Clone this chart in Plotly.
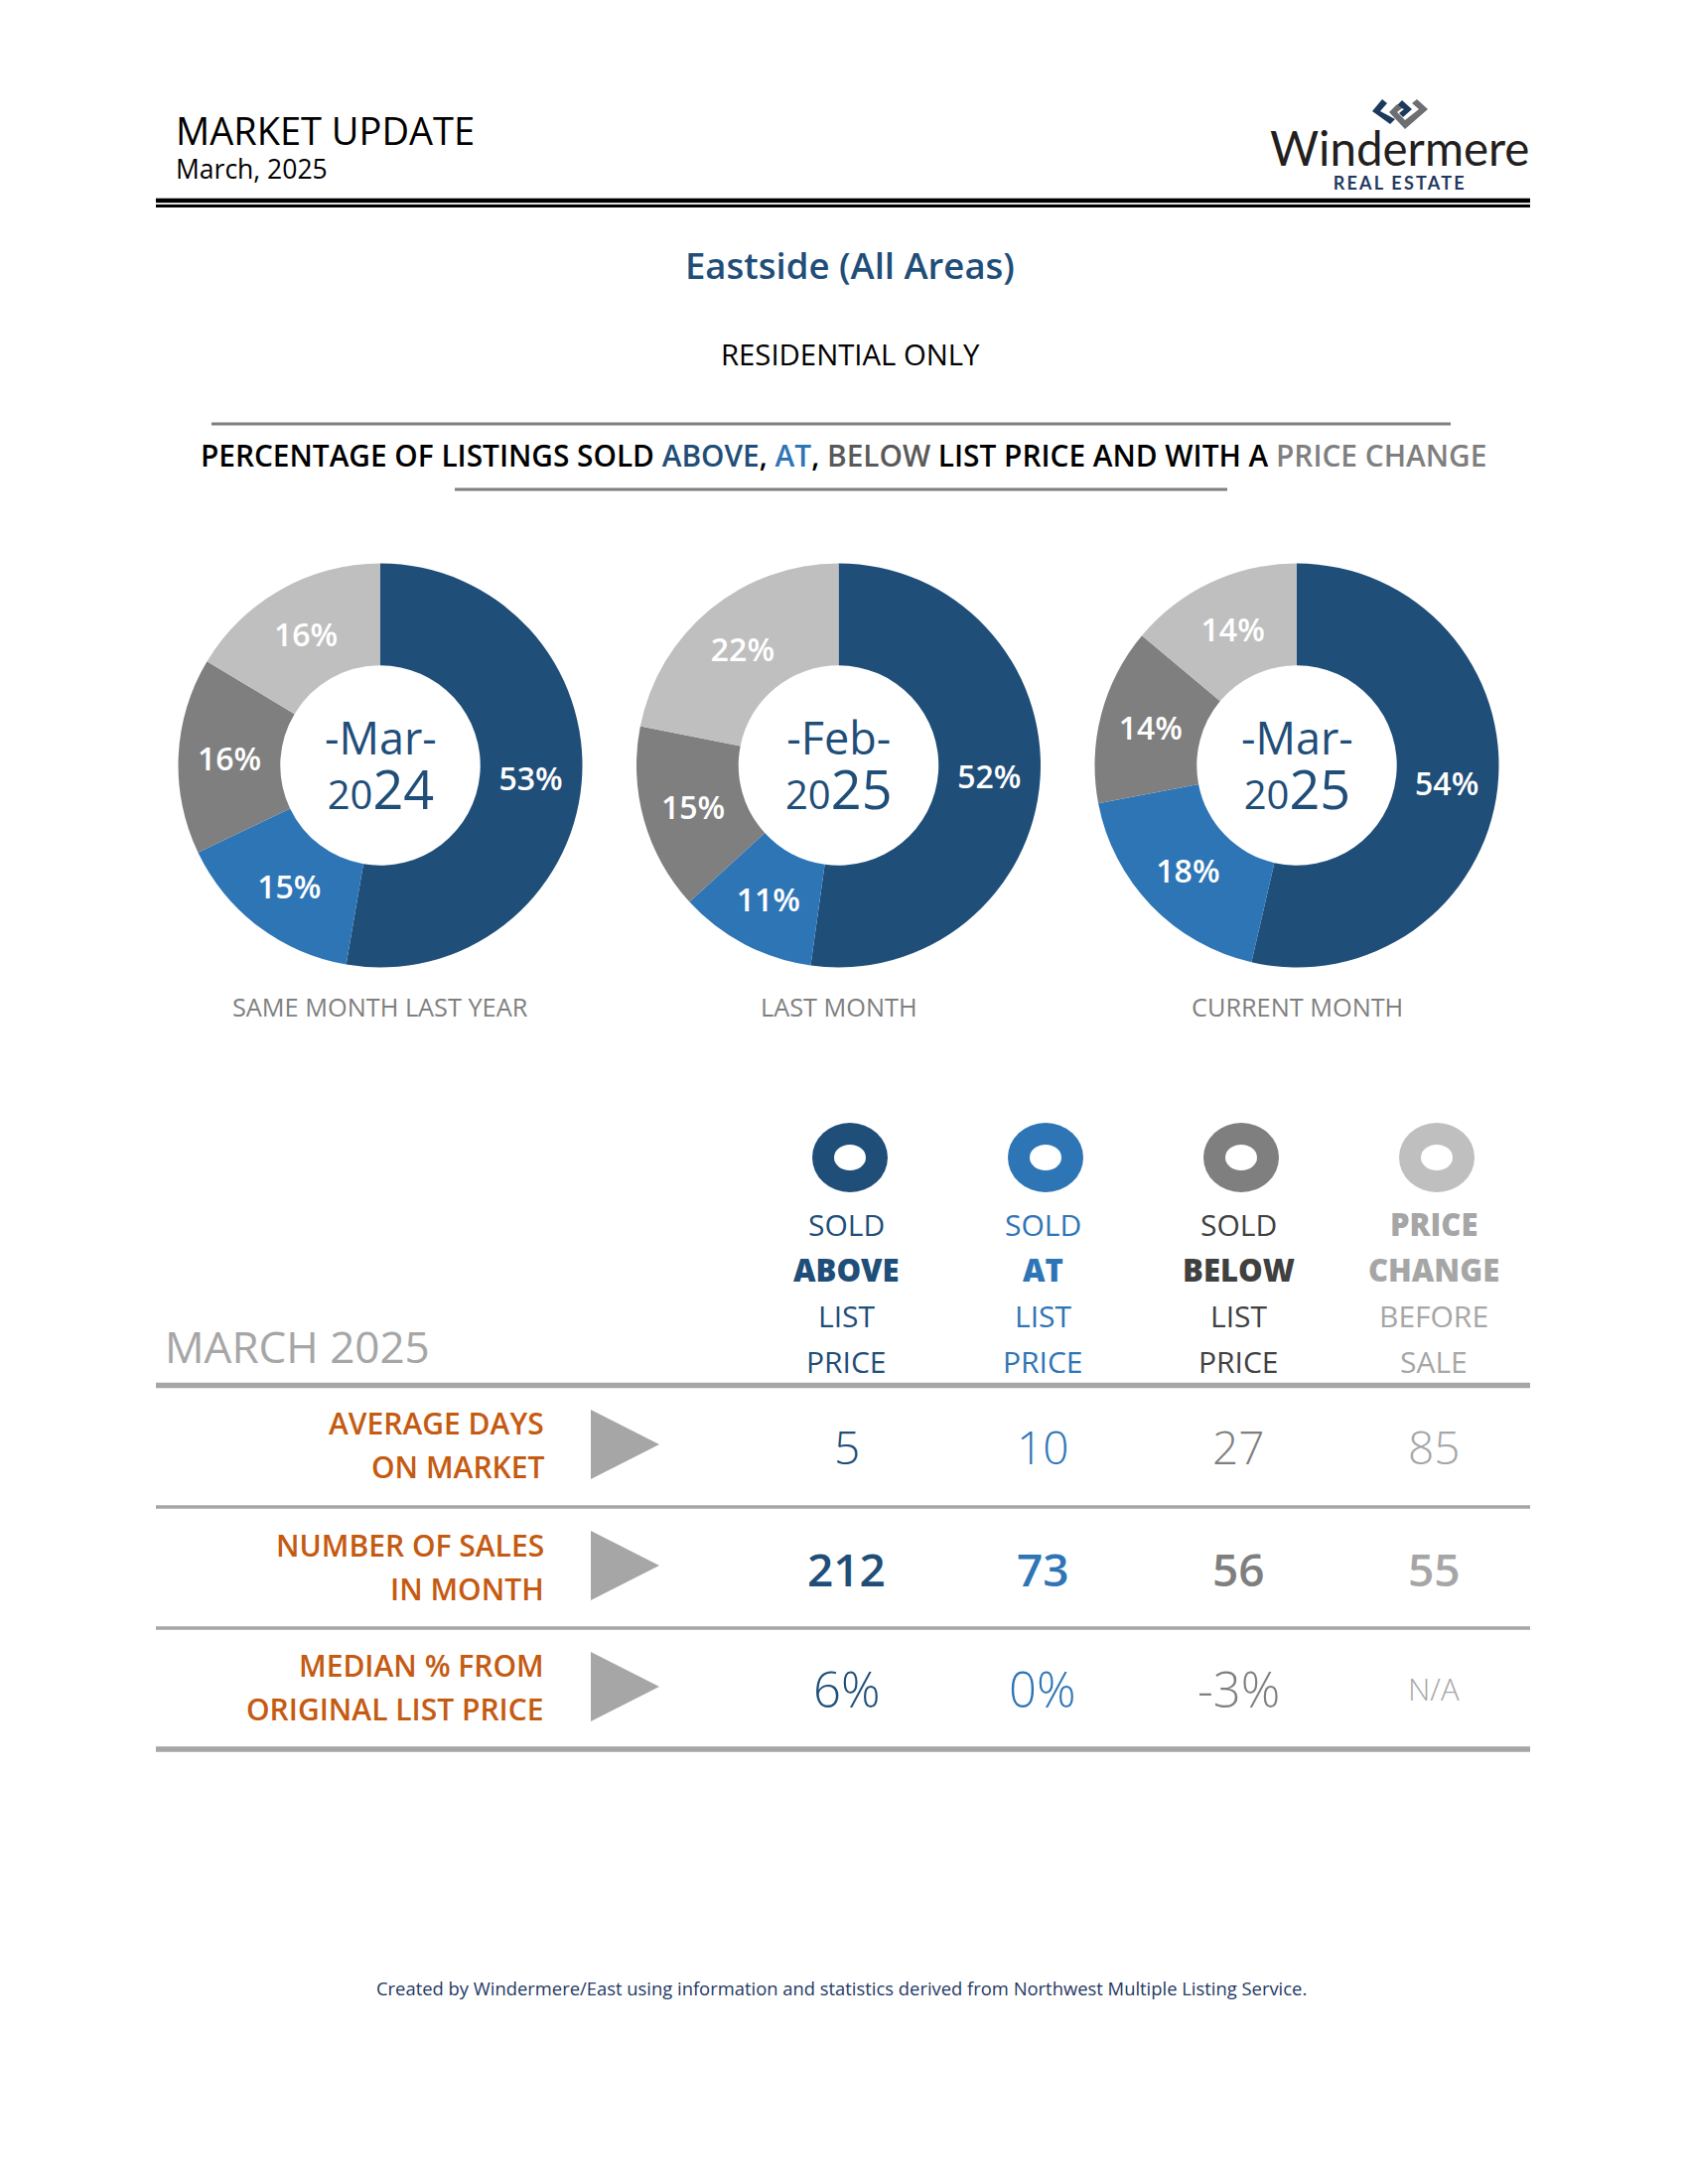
import plotly.graph_objects as go

W = 1700
H = 2200
FONT = "Open Sans"

NAVY = "#1f4e79"
BLUE = "#2e75b6"
GREY = "#7f7f7f"
LIGHT = "#bfbfbf"
RULE = "#a6a6a6"
ORANGE = "#c55a11"

slice_names = ["Sold above", "Sold at", "Sold below", "Price change"]
slice_colors = [NAVY, BLUE, GREY, LIGHT]
mar_2024 = [52.7, 15.2, 15.7, 16.4]
feb_2025 = [52.2, 11.0, 14.9, 21.9]
mar_2025 = [53.6, 18.4, 14.1, 13.9]
donut_months = ["-Mar-", "-Feb-", "-Mar-"]
donut_years = [("20", "24"), ("20", "25"), ("20", "25")]
donut_captions = ["SAME MONTH LAST YEAR", "LAST MONTH", "CURRENT MONTH"]
donut_x = [383, 844.5, 1306]
donut_y = 771
donut_r = 203.5

header_lines = [
    ["SOLD", "ABOVE", "LIST", "PRICE"],
    ["SOLD", "AT", "LIST", "PRICE"],
    ["SOLD", "BELOW", "LIST", "PRICE"],
    ["PRICE", "CHANGE", "BEFORE", "SALE"],
]
header_bold = [[1], [1], [1], [0, 1]]
header_colors = [NAVY, BLUE, "#404040", RULE]
header_y = [1233, 1279, 1325, 1371]
col_x = [852.5, 1050, 1247, 1444]
ring_x = [856, 1053, 1250, 1447]
ring_colors = [NAVY, BLUE, GREY, LIGHT]
value_colors = [NAVY, BLUE, GREY, RULE]

row_labels = [
    ["AVERAGE DAYS", "ON MARKET"],
    ["NUMBER OF SALES", "IN MONTH"],
    ["MEDIAN % FROM", "ORIGINAL LIST PRICE"],
]
row_y = [1457, 1580, 1701]
days_on_market = ["5", "10", "27", "85"]
sales_in_month = ["212", "73", "56", "55"]
median_from_list = ["6%", "0%", "-3%", "N/A"]
row_values = [days_on_market, sales_in_month, median_from_list]
row_weights = [300, 600, 300]


def px(x):
    return x / W


def py(y):
    return 1 - y / H


def text(x, y, s, size, color, anchor="center", weight=400, family=FONT):
    fig.add_annotation(xref="paper", yref="paper", x=px(x), y=py(y), text=s,
                       showarrow=False, xanchor=anchor, yanchor="middle",
                       align=anchor, borderpad=0,
                       font=dict(family=family, size=size, color=color, weight=weight))


def rule(x0, x1, y, width, color):
    fig.add_shape(type="line", xref="paper", yref="paper", x0=px(x0), x1=px(x1),
                  y0=py(y), y1=py(y), line=dict(color=color, width=width))


def polygon(points, color):
    path = "M " + " L ".join(f"{px(a)},{py(b)}" for a, b in points) + " Z"
    fig.add_shape(type="path", xref="paper", yref="paper", path=path,
                  fillcolor=color, line=dict(width=0))


fig = go.Figure()

# donuts
for i, vals in enumerate([mar_2024, feb_2025, mar_2025]):
    cx = donut_x[i]
    fig.add_trace(go.Pie(
        labels=slice_names, values=vals, hole=0.495, sort=False,
        direction="clockwise", rotation=0, showlegend=False,
        marker=dict(colors=slice_colors, line=dict(width=0)),
        texttemplate="%{value:.0f}%", textposition="inside",
        insidetextorientation="horizontal",
        insidetextfont=dict(family=FONT, size=32, color="white", weight=600),
        domain=dict(x=[px(cx - donut_r), px(cx + donut_r)],
                    y=[py(donut_y + donut_r), py(donut_y - donut_r)]),
    ))
    a, b = donut_years[i]
    text(cx + 0.5, 771.5,
         f'<span style="font-size:45px">{donut_months[i]}</span><br>'
         f'<span style="font-size:40px">{a}</span><span style="font-size:54px">{b}</span>',
         42, NAVY)
    text(cx, 1014, donut_captions[i], 25.3, GREY)

# header
text(176, 146, '<span style="font-size:38px">MARKET UPDATE</span><br>'
     '<span style="font-size:26.5px">March, 2025</span>', 26.2, "black", "left")
rule(157, 1541, 202, 4.5, "black")
rule(157, 1541, 207.5, 3, "black")

# logo
polygon([(1392, 100), (1397, 104), (1390, 112), (1405, 120), (1400, 125), (1382, 112)], "#1b3a5c")
polygon([(1406, 107), (1412, 101), (1422, 110), (1413, 118), (1409, 114), (1414, 110)], "#1b3a5c")
polygon([(1399, 113), (1407, 105), (1412, 109), (1407, 113), (1415, 121), (1429, 110),
         (1422, 104), (1427, 100), (1438, 110), (1415, 130)], "#6d6e71")
text(1409, 158, '<span style="font-family:Lato;font-size:47.5px;color:#231f20">Windermere</span><br>'
     '<span style="font-family:Lato;font-size:18px;font-weight:700;letter-spacing:2.2px">REAL ESTATE</span>',
     18.7, "#1f3a5f", family="Lato")

text(856, 267, "Eastside (All Areas)", 36.5, NAVY, weight=600)
text(856, 357, "RESIDENTIAL ONLY", 29.3, "black")
rule(213, 1461, 427, 3, GREY)
text(849, 459,
     'PERCENTAGE OF LISTINGS SOLD '
     f'<span style="color:{NAVY}">ABOVE</span>, '
     f'<span style="color:{BLUE}">AT</span>, '
     '<span style="color:#595959">BELOW</span> LIST PRICE AND WITH A '
     f'<span style="color:{GREY}">PRICE CHANGE</span>',
     29.8, "black", weight=600)
rule(458, 1236, 493, 3, GREY)

# table
text(165, 1356, "MARCH 2025", 44, RULE, "left")
for i in range(4):
    cx = ring_x[i]
    fig.add_shape(type="circle", xref="paper", yref="paper",
                  x0=px(cx - 38), x1=px(cx + 38), y0=py(1201), y1=py(1131),
                  fillcolor=ring_colors[i], line=dict(width=0))
    fig.add_shape(type="circle", xref="paper", yref="paper",
                  x0=px(cx - 16), x1=px(cx + 16), y0=py(1179), y1=py(1153),
                  fillcolor="white", line=dict(width=0))
    for j, (y, line) in enumerate(zip(header_y, header_lines[i])):
        if j in header_bold[i]:
            text(col_x[i], y, line, 31, header_colors[i], weight=800)
        else:
            text(col_x[i], y, line, 30, header_colors[i])

rule(157, 1541, 1395.5, 5.5, RULE)
rule(157, 1541, 1518, 3.5, RULE)
rule(157, 1541, 1640, 3.5, RULE)
rule(157, 1541, 1762, 5.5, RULE)

for r in range(3):
    cy = row_y[r]
    text(549, cy - 23.5, row_labels[r][0], 30, ORANGE, "right", weight=600)
    text(549, cy + 20.5, row_labels[r][1], 30, ORANGE, "right", weight=600)
    tri_y = [1457, 1579, 1701][r]
    polygon([(595, tri_y - 37), (664, tri_y - 2), (595, tri_y + 33)], RULE)
    for c in range(4):
        val = row_values[r][c]
        size = 31 if val == "N/A" else (49 if r == 2 else 46)
        text(col_x[c], cy, val, size, value_colors[c], weight=row_weights[r])

text(847, 2002.5, "Created by Windermere/East using information and statistics derived from Northwest Multiple Listing Service.",
     18.4, "#1f3864")

fig.update_layout(width=W, height=H, margin=dict(l=0, r=0, t=0, b=0),
                  paper_bgcolor="white", plot_bgcolor="white",
                  font=dict(family=FONT))

fig.write_html("out.html", config=dict(displayModeBar=False),
               post_script="document.body.style.margin='0';")
